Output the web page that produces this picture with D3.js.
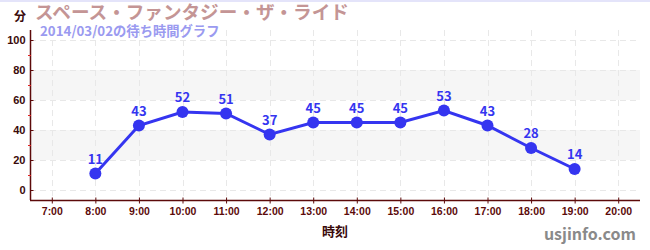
<!DOCTYPE html>
<html>
<head>
<meta charset="utf-8">
<script src="https://cdn.jsdelivr.net/npm/d3@7"></script>
<style>
  body { margin: 0; background: #fff; }
  svg { display: block; font-family: "Noto Sans CJK JP", "Noto Sans", sans-serif; }
</style>
</head>
<body>
<div id="chart"></div>
<script>
var w = 650, h = 250;

// data
var hours = [8, 9, 10, 11, 12, 13, 14, 15, 16, 17, 18, 19];
var waits = [11, 43, 52, 51, 37, 45, 45, 45, 53, 43, 28, 14];
var xTicks = [7, 8, 9, 10, 11, 12, 13, 14, 15, 16, 17, 18, 19, 20];
var yTicks = [0, 20, 40, 60, 80, 100];
var yMinor = [10, 30, 50, 70, 90];
var bands = [[20, 40], [60, 80]];

var title = "スペース・ファンタジー・ザ・ライド";
var subtitle = "2014/03/02の待ち時間グラフ";

// plot box (window.top is reserved, so use other names)
var pLeft = 30, pRight = 640, pTop = 30, pBottom = 200;
var axisColor = "#5c0a0a";
var lineColor = "#3535f0";

var x = d3.scaleLinear().domain([6.5, 20.5]).range([pLeft, pRight]);
var y = d3.scaleLinear().domain([-20 / 3, 320 / 3]).range([pBottom, pTop]);

var svg = d3.select("#chart").append("svg")
  .attr("width", w)
  .attr("height", h);

// top border
svg.append("rect").attr("x", 0).attr("y", 0).attr("width", w).attr("height", 2)
  .attr("fill", "#e4e4fa");

// bands
svg.selectAll(".band").data(bands).enter().append("rect")
  .attr("x", pLeft).attr("width", pRight - pLeft)
  .attr("y", function(d){ return y(d[1]); })
  .attr("height", function(d){ return y(d[0]) - y(d[1]); })
  .attr("fill", "#f6f6f6");

// grid
svg.selectAll(".hgrid").data(yTicks).enter().append("line")
  .attr("x1", pLeft).attr("x2", pRight)
  .attr("y1", function(d){ return y(d) + 0.5; })
  .attr("y2", function(d){ return y(d) + 0.5; })
  .attr("stroke", "#e8e8e8").attr("stroke-dasharray", "6,4");
svg.selectAll(".vgrid").data(xTicks).enter().append("line")
  .attr("x1", function(d){ return Math.round(x(d)) + 0.5; })
  .attr("x2", function(d){ return Math.round(x(d)) + 0.5; })
  .attr("y1", pTop).attr("y2", pBottom)
  .attr("stroke", "#e8e8e8").attr("stroke-dasharray", "6,4");

// y axis
var yAxis = svg.append("g").attr("transform", "translate(" + (pLeft + 0.5) + ",0)")
  .call(d3.axisLeft(y).tickValues(yTicks).tickSizeInner(4).tickSizeOuter(0).tickPadding(1));
yAxis.select(".domain").remove();
yAxis.selectAll(".tick line").attr("x2", 3).attr("stroke", axisColor);
yAxis.selectAll(".tick text").attr("fill", "#3a0a0a")
  .style("font-size", "11px").style("font-weight", "bold");
svg.append("line").attr("x1", pLeft + 0.5).attr("x2", pLeft + 0.5)
  .attr("y1", pTop).attr("y2", pBottom).attr("stroke", axisColor).attr("stroke-width", 1.5);
svg.selectAll(".minor").data(yMinor).enter().append("line")
  .attr("x1", pLeft - 2).attr("x2", pLeft + 1)
  .attr("y1", function(d){ return y(d) + 0.5; })
  .attr("y2", function(d){ return y(d) + 0.5; })
  .attr("stroke", "#e02020");

// x axis
var xAxis = svg.append("g").attr("transform", "translate(0," + (pBottom + 0.5) + ")")
  .call(d3.axisBottom(x).tickValues(xTicks).tickSizeInner(3).tickSizeOuter(0).tickPadding(4)
    .tickFormat(function(d){ return d + ":00"; }));
xAxis.select(".domain").remove();
xAxis.selectAll(".tick line").attr("y1", -3).attr("stroke", axisColor);
xAxis.selectAll(".tick text").attr("fill", "#5c0a0a")
  .style("font-size", "10.5px").style("font-weight", "bold");
svg.append("line").attr("x1", pLeft).attr("x2", pRight)
  .attr("y1", pBottom + 0.5).attr("y2", pBottom + 0.5).attr("stroke", axisColor).attr("stroke-width", 1.5);

// line + points
var data = hours.map(function(d, i){ return { h: d, v: waits[i] }; });
svg.append("path").datum(data)
  .attr("d", d3.line().x(function(d){ return x(d.h); }).y(function(d){ return y(d.v); }))
  .attr("fill", "none").attr("stroke", lineColor).attr("stroke-width", 3);
svg.selectAll(".pt").data(data).enter().append("circle")
  .attr("cx", function(d){ return x(d.h); })
  .attr("cy", function(d){ return y(d.v); })
  .attr("r", 6).attr("fill", lineColor);
svg.selectAll(".lbl").data(data).enter().append("text")
  .attr("x", function(d){ return x(d.h); })
  .attr("y", function(d){ return y(d.v) - 10; })
  .attr("text-anchor", "middle")
  .attr("fill", lineColor)
  .style("font-size", "13px").style("font-weight", "bold")
  .text(function(d){ return d.v; });

// titles
svg.append("text").attr("x", 14).attr("y", 21).attr("fill", "#3a0a0a")
  .style("font-size", "12px").style("font-weight", "bold").text("分");
svg.append("text").attr("x", 35).attr("y", 19).attr("fill", "#c49595")
  .style("font-size", "18.6px").style("font-weight", "bold").text(title);
svg.append("text").attr("x", 40).attr("y", 36).attr("fill", "#9a9af0")
  .style("font-size", "13.3px").style("font-weight", "bold").text(subtitle);
svg.append("text").attr("x", (pLeft + pRight) / 2).attr("y", 236).attr("text-anchor", "middle")
  .attr("fill", "#3a0a0a").style("font-size", "13px").style("font-weight", "bold").text("時刻");
svg.append("text").attr("x", 636).attr("y", 240).attr("text-anchor", "end")
  .attr("fill", "#8a8a8a").style("font-size", "16px").style("font-weight", "bold").text("usjinfo.com");
</script>
</body>
</html>
